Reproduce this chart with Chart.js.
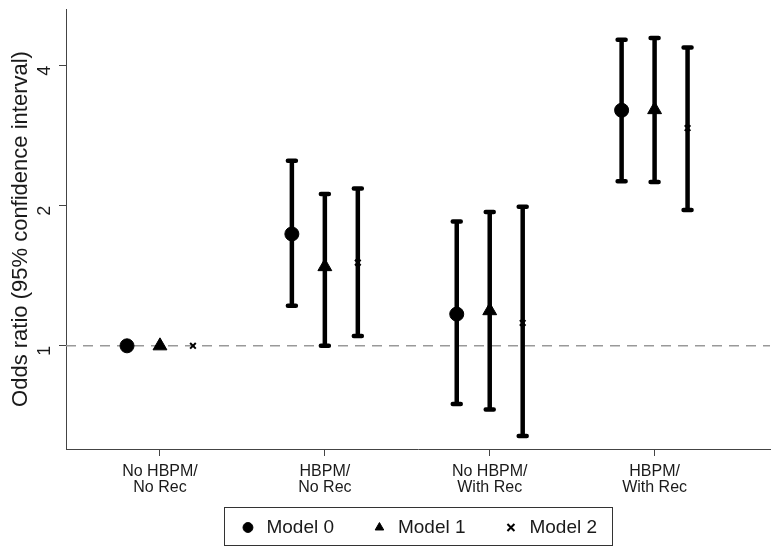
<!DOCTYPE html>
<html>
<head>
<meta charset="utf-8">
<script src="https://cdn.jsdelivr.net/npm/chart.js@4.4.1/dist/chart.umd.min.js"></script>
<style>
  html, body { margin: 0; padding: 0; background: #fff; }
  #wrap { width: 780px; height: 553px; }
</style>
</head>
<body>
<div id="wrap"><canvas id="oddsChart"></canvas></div>
<script>
const categories = [
  ["No HBPM/", "No Rec"],
  ["HBPM/", "No Rec"],
  ["No HBPM/", "With Rec"],
  ["HBPM/", "With Rec"],
];
const modelNames = ["Model 0", "Model 1", "Model 2"];

const model0 = [1, 1.74, 1.17, 3.21];
const model0Low = [1, 1.22, 0.75, 2.26];
const model0High = [1, 2.50, 1.85, 4.55];

const model1 = [1, 1.48, 1.19, 3.22];
const model1Low = [1, 1.00, 0.73, 2.25];
const model1High = [1, 2.12, 1.94, 4.59];

const model2 = [1, 1.51, 1.12, 2.94];
const model2Low = [1, 1.05, 0.64, 1.96];
const model2High = [1, 2.18, 1.99, 4.38];

const yTicks = [1, 2, 4];
const refLine = 1;

const dodge = [-0.2, 0, 0.2];
const allValues = [model0, model1, model2];
const allLow = [model0Low, model1Low, model2Low];
const allHigh = [model0High, model1High, model2High];
const markerStyles = [
  { pointStyle: "circle", radius: 7, borderWidth: 1 },
  { pointStyle: "triangle", radius: 8, borderWidth: 1 },
  { pointStyle: "crossRot", radius: 4, borderWidth: 2 },
];

Chart.defaults.font.family = "'Liberation Sans', Arial, sans-serif";
Chart.defaults.color = "#1a1a1a";

const datasets = allValues.map((vals, m) => ({
  label: modelNames[m],
  data: vals.map((v, i) => ({ x: i + 1 + dodge[m], y: v })),
  low: allLow[m],
  high: allHigh[m],
  pointStyle: markerStyles[m].pointStyle,
  pointRadius: markerStyles[m].radius,
  pointHoverRadius: markerStyles[m].radius,
  pointBorderWidth: markerStyles[m].borderWidth,
  backgroundColor: "#000",
  borderColor: "#000",
  showLine: false,
}));

// dashed reference line + error bars, drawn with the chart's scales
const errorBars = {
  id: "errorBars",
  beforeDatasetsDraw(chart) {
    const { ctx, chartArea, scales } = chart;
    const xs = scales.x, ys = scales.y;
    ctx.save();
    ctx.strokeStyle = "#999";
    ctx.lineWidth = 1.5;
    ctx.setLineDash([10, 7]);
    const yr = ys.getPixelForValue(refLine);
    ctx.beginPath();
    ctx.moveTo(chartArea.left, yr);
    ctx.lineTo(chartArea.right, yr);
    ctx.stroke();
    ctx.setLineDash([]);

    ctx.strokeStyle = "#000";
    ctx.lineWidth = 4.5;
    ctx.lineCap = "round";
    chart.data.datasets.forEach((ds) => {
      ds.data.forEach((pt, i) => {
        if (ds.low[i] === ds.high[i]) return;
        const x = xs.getPixelForValue(pt.x);
        const y1 = ys.getPixelForValue(ds.low[i]);
        const y2 = ys.getPixelForValue(ds.high[i]);
        ctx.beginPath();
        ctx.moveTo(x, y1);
        ctx.lineTo(x, y2);
        ctx.moveTo(x - 4, y1);
        ctx.lineTo(x + 4, y1);
        ctx.moveTo(x - 4, y2);
        ctx.lineTo(x + 4, y2);
        ctx.stroke();
      });
    });
    ctx.restore();
  },
  afterDraw(chart) {
    const boxes = chart.legend.legendHitBoxes;
    if (!boxes || !boxes.length) return;
    const { ctx } = chart;
    let l = Infinity, r = -Infinity, t = Infinity, b = -Infinity;
    boxes.forEach((h) => {
      l = Math.min(l, h.left);
      r = Math.max(r, h.left + h.width);
      t = Math.min(t, h.top);
      b = Math.max(b, h.top + h.height);
    });
    ctx.save();
    ctx.strokeStyle = "#333";
    ctx.lineWidth = 1;
    ctx.strokeRect(Math.round(l - 15) + 0.5, Math.round(t - 11) + 0.5, Math.round(r - l + 30), Math.round(b - t + 19));
    ctx.restore();
  },
};

new Chart("oddsChart", {
  type: "scatter",
  data: { datasets },
  plugins: [errorBars],
  options: {
    responsive: true,
    maintainAspectRatio: false,
    animation: false,
    layout: { padding: { left: 0, top: 8, right: 10, bottom: 6 } },
    plugins: {
      tooltip: { enabled: false },
      legend: {
        position: "bottom",
        fullSize: false,
        labels: {
          usePointStyle: true,
          boxWidth: 18,
          boxHeight: 7,
          padding: 10,
          font: { size: 19 },
          color: "#1a1a1a",
          generateLabels: (chart) => {
            const items = Chart.defaults.plugins.legend.labels.generateLabels(chart);
            items.forEach((it, i) => {
              if (i < items.length - 1) it.text = it.text + "\u00a0\u00a0\u00a0\u00a0\u00a0";
            });
            return items;
          },
        },
      },
    },
    scales: {
      x: {
        type: "linear",
        min: 0.43,
        max: 4.7,
        afterBuildTicks: (s) => {
          s.ticks = categories.map((c, i) => ({ value: i + 1 }));
        },
        afterFit: (s) => {
          s.height = 59;
        },
        ticks: {
          callback: (v) => categories[Math.round(v) - 1],
          font: { size: 16, lineHeight: 1.0 },
          padding: 8,
          maxRotation: 0,
          autoSkip: false,
        },
        grid: { drawOnChartArea: false, drawTicks: true, tickLength: 7, color: "#444" },
        border: { color: "#444", width: 1 },
      },
      y: {
        type: "logarithmic",
        min: 0.6,
        max: 5.3,
        afterBuildTicks: (s) => {
          s.ticks = yTicks.map((v) => ({ value: v }));
        },
        afterFit: (s) => {
          s.width = 66;
          s.paddingTop = 0;
          s.paddingBottom = 0;
        },
        ticks: {
          callback: (v) => String(v),
          font: { size: 18 },
          minRotation: 90,
          maxRotation: 90,
          padding: 14,
        },
        title: {
          display: true,
          text: "Odds ratio (95% confidence interval)",
          font: { size: 22 },
          padding: { top: 8, bottom: 0 },
        },
        grid: { drawOnChartArea: false, drawTicks: true, tickLength: 7, color: "#444" },
        border: { color: "#444", width: 1 },
      },
    },
  },
});
</script>
</body>
</html>
